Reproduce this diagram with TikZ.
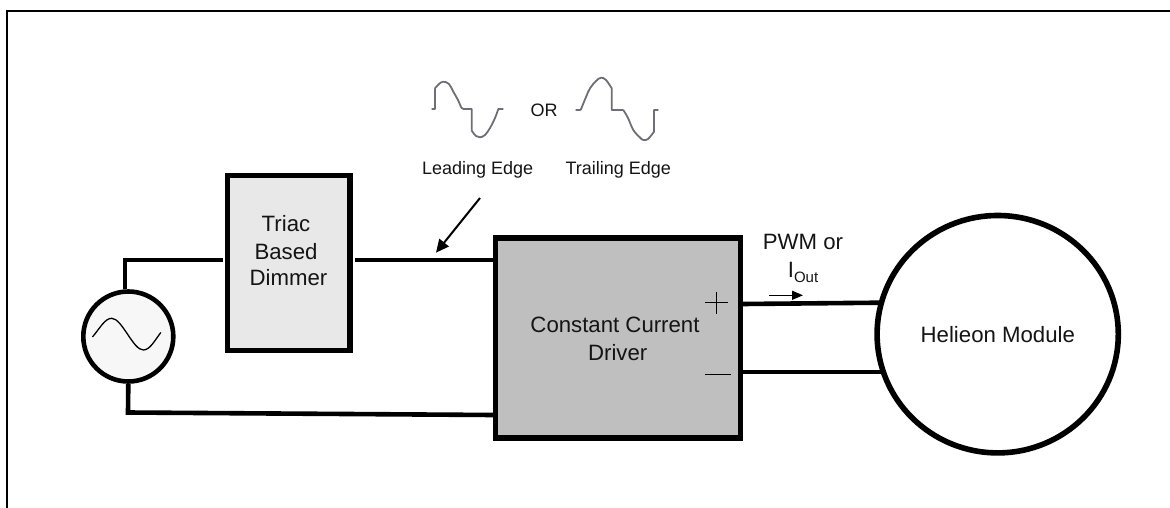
\documentclass[tikz,border=0pt]{standalone}
\usepackage{fontspec}
\setmainfont{Liberation Sans}
\usetikzlibrary{arrows.meta,shapes.geometric}
\definecolor{wavegrey}{HTML}{6E6E76}
\definecolor{inktext}{HTML}{141414}
\tikzset{
  boxnode/.style={draw=black,line width=5.4pt,inner sep=0pt,rectangle},
  ringnode/.style={draw=black,circle,inner sep=0pt},
  wire/.style={line width=4.6pt,line join=miter},
  wave/.style={wavegrey,line width=1.8pt,line join=round},
  frameline/.style={black,line width=2.3pt},
  sign/.style={black,line width=1.1pt},
  lbl/.style={inner sep=0pt,anchor=base,text=inktext,font=\fontsize{22.2}{27}\selectfont},
  small/.style={inner sep=0pt,anchor=base,text=inktext,font=\fontsize{18}{20}\selectfont},
  pointer/.style={black,line width=2pt,-{Triangle[length=13pt,width=12pt]}},
  curarrow/.style={black,line width=1.5pt,-{Triangle[length=11pt,width=9pt]}}
}
\begin{document}
\begin{tikzpicture}[x=1pt,y=-1pt]
\useasboundingbox (0,0) rectangle (1170,508);
% frame open at right and bottom
\coordinate (frameTR) at (1170,11);
\coordinate (frameBL) at (7.3,508);
\draw[frameline] (frameTR) -| (frameBL);

% connectors to the module lie under its ring
\coordinate (d1) at (743,304);
\coordinate (d2) at (880,302.7);
\draw[wire] (d1) -- (d2);
\coordinate (e1) at (743,372.3);
\coordinate (e2) at (882,372.3);
\draw[wire,line width=4.2pt] (e1) -- (e2);

% boxes
\node[boxnode,fill=black!9,minimum width=122.3pt,minimum height=174.8pt] (dim) at (288.85,263.1) {};
\node[boxnode,fill=black!25,minimum width=245pt,minimum height=200.2pt] (drv) at (618,337.9) {};
\node[ringnode,fill=black!3,line width=4.6pt,minimum size=90pt] (src) at (128.3,336.5) {};
\node[draw=black,ellipse,inner sep=0pt,fill=white,line width=5.6pt,minimum width=241.2pt,minimum height=237.4pt] (mod) at (997.7,334.2) {};

% labels in boxes
\node[lbl] (t1) at (286,231.7) {Triac};
\node[lbl] (t2) at (286,259) {Based};
\node[lbl] (t3) at (288.5,285) {Dimmer};
\node[lbl] (c1) at (615,332.7) {Constant Current};
\node[lbl] (c2) at (617.7,360) {Driver};
\node[lbl] (h1) at (997.8,342.3) {Helieon Module};
\node[lbl] (p1) at (803,249.3) {PWM or};
\node[lbl] (p2) at (803,277) {I\raisebox{-5pt}{\fontsize{15}{15}\selectfont Out}};
\node[small] (or) at (544,116.7) {OR};
\node[small] (le) at (477.7,175) {Leading Edge};
\node[small] (te) at (618.3,175) {Trailing Edge};

% connectors
\coordinate (a2) at (125,260);
\coordinate (a3) at (dim.west |- 0,260);
\draw[wire,shorten >=2.5pt] (125,289) -- (a2) -- (a3);
\coordinate (b1) at (dim.east |- 0,260);
\coordinate (b2) at (drv.west |- 0,260);
\draw[wire,shorten <=2.5pt] (b1) -- (b2);
\coordinate (c3) at (128,412.5);
\coordinate (c4) at (drv.west |- 0,415);
\draw[wire] (src.south) -- (c3) -- (c4);

% signs
\draw[sign] (705,302.3) -- (727.7,302.3);
\draw[sign] (716.3,291.7) -- (716.3,314);
\draw[sign] (705,374.7) -- (730.7,374.7);

% arrows
\coordinate (pf) at (480,198);
\coordinate (pt) at (436,252.7);
\draw[pointer] (pf) -- (pt);
\coordinate (cf) at (769,295.3);
\coordinate (ct) at (803,295.3);
\draw[curarrow] (cf) -- (ct);

% source sine
\draw[black,line width=1.3pt,line cap=round] (92.7,336.7)
  .. controls (100,328) and (105,318.3) .. (111.7,318.3)
  .. controls (122,318.3) and (133,350) .. (143.3,350)
  .. controls (150,350) and (155,340) .. (160.7,332.7);

% waveforms
\draw[wave] (431.7,109) -- (435,109) -- (435,88.3)
  plot[smooth,tension=.6] coordinates {(435,88.3) (439,84) (443.3,81.7) (449,84) (453.3,91.7) (458,100) (461.7,108) (465,109)}
  -- (471.7,109) -- (471.7,130.7)
  plot[smooth,tension=.6] coordinates {(471.7,130.7) (476,136) (480,137.3) (485,135) (490,128) (495,118) (498.3,109)}
  -- (503.3,109);
\draw[wave] (575.7,110) -- (580.7,110)
  plot[smooth,tension=.6] coordinates {(580.7,110) (586,97) (590,88.3) (596,81) (601,77.7) (606,80) (611.7,88.3)}
  -- (611.7,110) -- (623.3,110)
  plot[smooth,tension=.6] coordinates {(623.3,110) (628,118) (633.3,130) (640,137.5) (643.3,140) (648,139) (654,131.7)}
  -- (654,110) -- (658.3,110);
\end{tikzpicture}
\end{document}
